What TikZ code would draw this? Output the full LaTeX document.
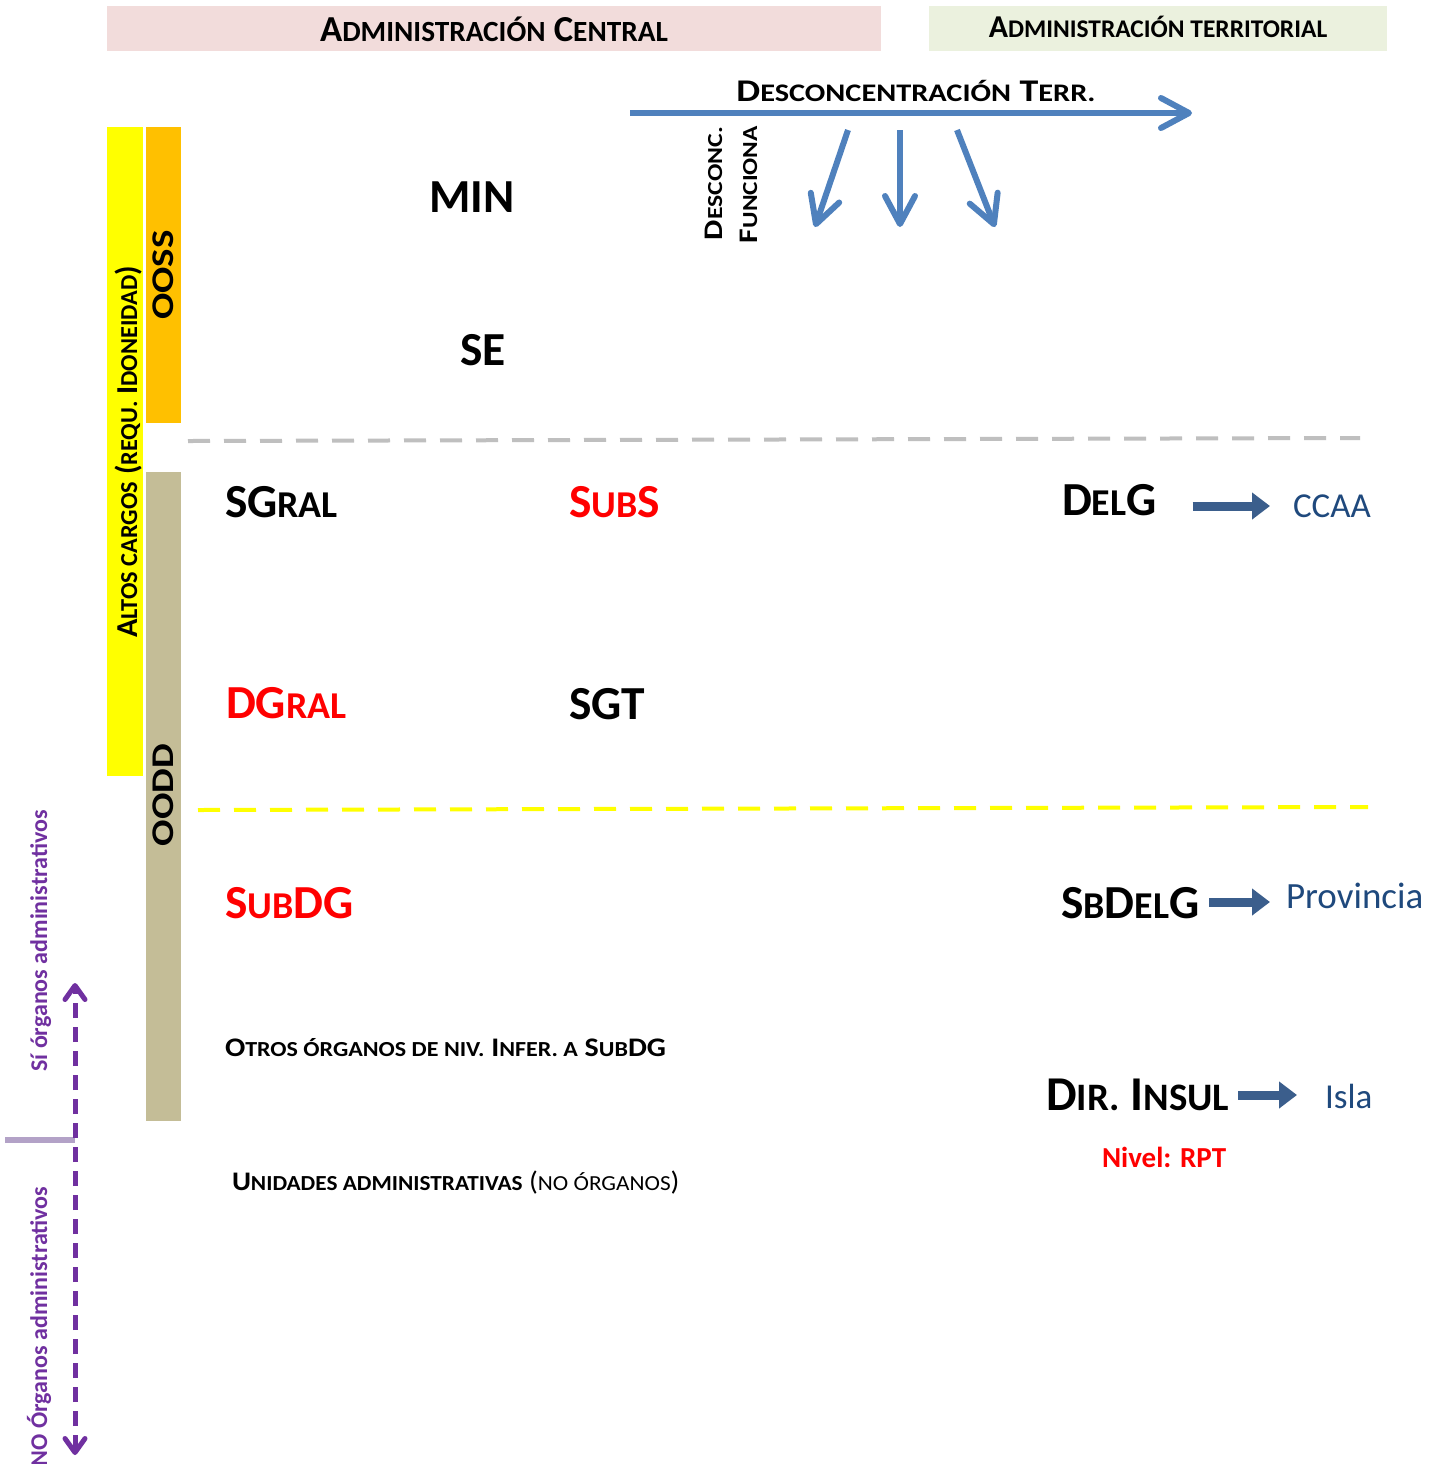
\documentclass[tikz,border=0pt]{standalone}
\usepackage{fontspec}
\usepackage{graphicx}
\setmainfont{Carlito}
\usetikzlibrary{arrows.meta}
\makeatletter
\newcommand\sk[1]{{\fontsize{\fpeval{0.8*\f@size}}{0}\selectfont\MakeUppercase{#1}}}
\makeatother
\newcommand\wide[2]{\scalebox{#1}[1]{#2}}
\definecolor{hdrpink}{HTML}{F2DCDB}
\definecolor{hdrgreen}{HTML}{EBF1DE}
\definecolor{oossc}{HTML}{FFC000}
\definecolor{ooddc}{HTML}{C4BD97}
\definecolor{arrblue}{HTML}{4F81BD}
\definecolor{blkblue}{HTML}{3B5E8C}
\definecolor{terrblue}{HTML}{1F497D}
\definecolor{purp}{HTML}{7030A0}
\definecolor{lpurp}{HTML}{B3A2C7}
\definecolor{dgray}{HTML}{BFBFBF}
\definecolor{ylw}{HTML}{FFFF00}
\definecolor{rd}{HTML}{FF0000}
\tikzset{
  txt/.style={inner sep=0pt, outer sep=0pt, anchor=base west},
  fbig/.style={font=\bfseries\fontsize{23.7}{28}\selectfont},
  fdir/.style={font=\bfseries\fontsize{24.3}{28}\selectfont},
  fter/.style={font=\fontsize{17.5}{21}\selectfont, text=terrblue},
  fsmall/.style={font=\bfseries\fontsize{13.4}{16}\selectfont},
  fvert/.style={font=\bfseries\fontsize{15.8}{18}\selectfont},
  fpur/.style={font=\bfseries\fontsize{12}{14}\selectfont, text=purp},
  bluearr/.style={draw=arrblue, line width=3pt, -{Straight Barb[length=14pt,width=15pt,round]}},
  blockarr/.style={draw=blkblue, line width=4.5pt, -{Triangle[length=9pt,width=13pt]}},
  purparr/.style={draw=purp, line width=2.5pt, dash pattern=on 7.5pt off 4.5pt, {Straight Barb[length=7pt,width=10pt,round]}-{Straight Barb[length=7pt,width=10pt,round]}},
}
\begin{document}
\begin{tikzpicture}[x=0.5pt,y=0.5pt]
\useasboundingbox (0,0) rectangle (1442,-1464);
\fill[white] (0,0) rectangle (1442,-1464);
% header bands
\fill[hdrpink] (107,-6) rectangle (881,-51);
\fill[hdrgreen] (929,-6) rectangle (1387,-51);
\node[inner sep=0pt, font=\bfseries\fontsize{18.3}{22}\selectfont] (hc) at (494,-29) {A\sk{dministración} C\sk{entral}};
\node[inner sep=0pt, font=\bfseries\fontsize{15.9}{19}\selectfont] (ht) at (1158,-27) {A\sk{dministración territorial}};
% left bars
\fill[ylw] (107,-127) rectangle (143,-776);
\fill[oossc] (146,-127) rectangle (181,-423);
\fill[ooddc] (146,-472) rectangle (181,-1121);
\node[rotate=90, anchor=base, inner sep=0pt, font=\bfseries\fontsize{15.2}{18}\selectfont] (alt) at (137,-452) {A\sk{ltos cargos} (\sk{requ.} I\sk{doneidad})};
\node[rotate=90, anchor=base, inner sep=0pt, fvert] (oss) at (173,-275) {\wide{1.23}{OOSS}};
\node[rotate=90, anchor=base, inner sep=0pt, fvert] (odd) at (173,-795) {\wide{1.24}{OODD}};
% separator lines
\draw[dgray, line width=2pt, dash pattern=on 11pt off 7pt] (188,-441) -- (1360,-438);
\draw[ylw, line width=2pt, dash pattern=on 11pt off 7pt] (198,-810) -- (1368,-807);
% desconcentracion
\coordinate (d0) at (630,-113);
\coordinate (d1) at (1192,-113);
\draw[bluearr] (d0) -- (d1);
\node[inner sep=0pt, font=\bfseries\fontsize{15.8}{19}\selectfont] (dt) at (916,-91) {\wide{1.2}{D\sk{esconcentración} T\sk{err.}}};
\coordinate (a1s) at (848,-130); \coordinate (a1e) at (815,-227);
\coordinate (a2s) at (900,-130); \coordinate (a2e) at (900,-227);
\coordinate (a3s) at (957,-130); \coordinate (a3e) at (995,-227);
\draw[bluearr] (a1s) -- (a1e);
\draw[bluearr] (a2s) -- (a2e);
\draw[bluearr] (a3s) -- (a3e);
\node[txt, rotate=90, font=\bfseries\fontsize{13.4}{16}\selectfont] (dc) at (722,-240) {\wide{1.2}{D\sk{esconc.}}};
\node[txt, rotate=90, font=\bfseries\fontsize{13.4}{16}\selectfont] (fn) at (757,-243) {\wide{1.18}{F\sk{unciona}}};
% organs
\node[txt, fbig] (min) at (429,-212) {MIN};
\node[txt, fbig] (se) at (460,-365) {SE};
\node[txt, fbig] (sgral) at (225,-517) {SG\sk{ral}};
\node[txt, fbig, text=rd] (subs) at (569,-517) {S\sk{ub}S};
\node[txt, fbig] (delg) at (1062,-515) {D\sk{el}G};
\node[txt, fter] (ccaa) at (1293,-517) {CCAA};
\node[txt, fbig, text=rd] (dgral) at (226,-718) {DG\sk{ral}};
\node[txt, fbig] (sgt) at (569,-719) {SGT};
\node[txt, fbig, text=rd] (subdg) at (225,-918) {S\sk{ub}DG};
\node[txt, fbig] (sbdelg) at (1061,-918) {S\sk{b}D\sk{el}G};
\node[txt, fter, font=\fontsize{18.5}{22}\selectfont] (prov) at (1286,-908) {Provincia};
\node[txt, fsmall] (otros) at (225,-1056) {\wide{1.12}{O\sk{tros órganos de niv.} I\sk{nfer. a} S\sk{ub}DG}};
\node[txt, fdir] (dir) at (1046,-1110) {D\sk{ir.} I\sk{nsul}};
\node[txt, fter] (isla) at (1325,-1108) {Isla};
\node[txt, text=rd, font=\bfseries\fontsize{14.5}{17}\selectfont] (nivel) at (1102,-1167) {Nivel: RPT};
\node[txt, fsmall] (unid) at (232,-1190) {\wide{1.085}{U\sk{nidades administrativas} {\mdseries (\sk{no órganos})}}};
% block arrows
\coordinate (b1s) at ([xshift=18pt,yshift=4.5pt]delg.base east);
\coordinate (b1e) at (b1s -| ccaa.west);
\draw[blockarr] (b1s) -- ([xshift=-11.5pt]b1e);
\coordinate (b2s) at ([xshift=5pt,yshift=8pt]sbdelg.base east);
\coordinate (b2e) at (b2s -| prov.west);
\draw[blockarr] (b2s) -- ([xshift=-8pt]b2e);
\coordinate (b3s) at ([xshift=4.5pt,yshift=7.5pt]dir.base east);
\coordinate (b3e) at (b3s -| isla.west);
\draw[blockarr] (b3s) -- ([xshift=-14pt]b3e);
% purple
\coordinate (p0) at (75,-983);
\coordinate (p1) at (75,-1455);
\coordinate (l0) at (5,-1140);
\coordinate (l1) at (75,-1140);
\draw[lpurp, line width=3pt] (l0) -- (l1);
\draw[purparr] (p1) -- (p0);
\node[rotate=90, anchor=base, inner sep=0pt, fpur] (si) at (47,-941) {Sí órganos administrativos};
\node[txt, rotate=90, fpur] (no) at (47,-1466) {NO Órganos administrativos};
\end{tikzpicture}
\end{document}
